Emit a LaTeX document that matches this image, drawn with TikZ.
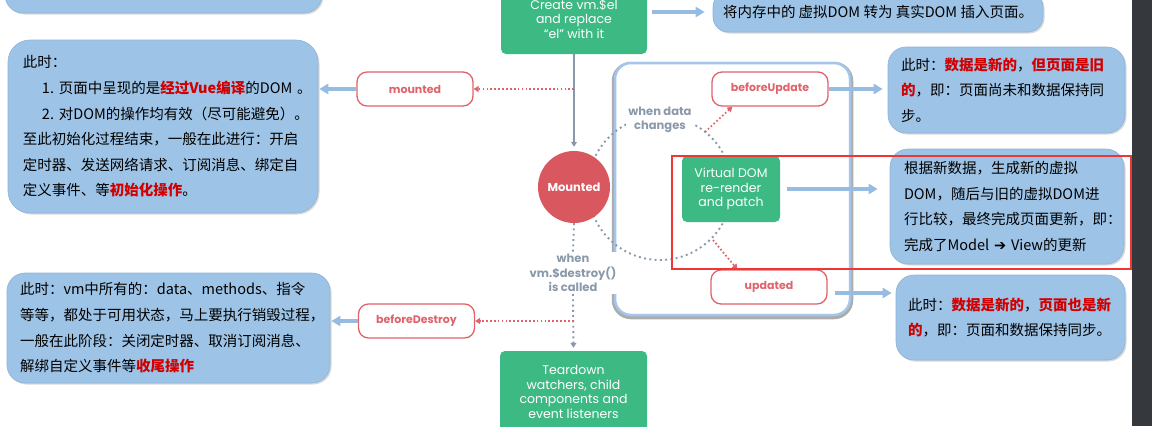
\documentclass[tikz,border=0pt]{standalone}
\usepackage{fontspec}
\setmainfont{Poppins}
\newfontfamily\cjk{Noto Sans CJK SC}
\newfontfamily\dejavu{DejaVu Sans}
\usepackage{xcolor}
\usetikzlibrary{arrows.meta,shadows}
\hyphenpenalty=10000
\exhyphenpenalty=10000

\definecolor{boxblue}{HTML}{9DC3E6}
\definecolor{boxedge}{HTML}{8DB3D9}
\definecolor{arrowblue}{HTML}{96BCE2}
\definecolor{frameblue}{HTML}{A4C6EA}
\definecolor{vuegreen}{HTML}{3DB984}
\definecolor{hookred}{HTML}{E0636B}
\definecolor{circred}{HTML}{D9575F}
\definecolor{hlred}{HTML}{D00000}
\definecolor{slate}{HTML}{8A99AA}
\definecolor{framered}{HTML}{F03535}
\definecolor{darkbar}{HTML}{35393D}

\newcommand{\redtxt}[1]{\textcolor{hlred}{\bfseries #1}}
\newcommand{\hook}[4]{\node[hookbox] (#1) at (#2,#3) {#4};}

\tikzset{
  infobox/.style={fill=boxblue, draw=boxedge, line width=0.6pt, rounded corners=18pt,
    align=left, inner xsep=0pt, font=\cjk\fontsize{14.5pt}{25.6pt}\selectfont,
    drop shadow={opacity=0.3, shadow xshift=1.5pt, shadow yshift=-1.5pt}},
  hookbox/.style={draw=hookred, fill=white, line width=1.3pt, rounded corners=10pt,
    minimum width=116pt, minimum height=34pt, text=hookred,
    font=\bfseries\fontsize{11pt}{13pt}\selectfont},
  greenbox/.style={fill=vuegreen, text=white, rounded corners=5pt, align=center,
    font=\fontsize{12.5pt}{14.5pt}\selectfont},
  slatelabel/.style={text=slate, fill=white, align=center, inner sep=2pt,
    font=\bfseries\fontsize{11.5pt}{14.5pt}\selectfont},
  grayline/.style={draw=slate, line width=1.8pt, -{Triangle[length=5pt,width=6pt]}},
  graydot/.style={draw=slate, line width=1.9pt, dash pattern=on 1.9pt off 3.4pt},
  reddot/.style={draw=hookred, line width=1.7pt, dash pattern=on 1.7pt off 2.2pt,
    -{Triangle[length=5pt,width=6pt]}},
  bluearrow/.style={draw=arrowblue, line width=3.2pt, -{Triangle[length=9pt,width=10pt]}}
}

\begin{document}
\begin{tikzpicture}[x=1pt,y=-1pt]
\useasboundingbox (0,0) rectangle (1152,426);

% update loop frame and the dotted cycle
\draw[gray!65, line width=4.5pt, rounded corners=17pt] (614,64) rectangle (851,317);
\draw[frameblue, line width=2.5pt, fill=white, rounded corners=16pt] (615,63) rectangle (850,315);
\draw[graydot] (660,188) circle[radius=72pt];

% lifecycle steps
\node[greenbox, minimum width=146pt, minimum height=70pt] (create) at (574,19)
  {Create vm.\$el\\and replace\\“el” with it};
\node[circle, fill=circred, text=white, minimum size=72pt, inner sep=0pt,
  font=\bfseries\fontsize{11.5pt}{13pt}\selectfont] (mounted) at (574,187) {Mounted};
\node[greenbox, minimum width=98pt, minimum height=66pt] (vdom) at (731,189)
  {Virtual DOM\\re-render\\and patch};
\node[greenbox, minimum width=147pt, minimum height=82pt] (teardown) at (573.5,392)
  {Teardown\\watchers, child\\components and\\event listeners};
\node[slatelabel] (datachg) at (660,120) {when data\\changes};
\node[slatelabel] (destroycall) at (573,273) {when\\vm.\$destroy()\\is called};

% hooks
\hook{mountedhook}{415}{89}{mounted}
\hook{beforeupdate}{770}{89}{beforeUpdate}
\hook{updated}{769}{287}{updated}
\hook{beforedestroy}{416.5}{321}{beforeDestroy}

% notes
\node[infobox, minimum width=317pt, minimum height=73pt] (topinfo) at (163.5,-23.5) {};
\node[infobox, minimum width=330pt, minimum height=40pt, rounded corners=15pt] (domnote) at (878,12)
  {将内存中的 虚拟DOM 转为 真实DOM 插入页面。};
\node[infobox, minimum width=310pt, minimum height=173pt, text width=280pt, rounded corners=22pt] (mountinfo) at (163,126.5)
  {此时：\\
   \hspace*{19pt}1.~页面中呈现的是\redtxt{经过Vue编译}的DOM~。\\
   \hspace*{19pt}2.~对DOM的操作均有效（尽可能避免）。\\
   至此初始化过程结束，一般在此进行：开启\\
   定时器、发送网络请求、订阅消息、绑定自\\
   定义事件、等\redtxt{初始化操作}。};
\node[infobox, minimum width=323pt, minimum height=110pt, text width=297pt] (destroyinfo) at (168.5,328)
  {此时：vm中所有的：data、methods、指令\\
   等等，都处于可用状态，马上要执行销毁过程，\\
   一般在此阶段：关闭定时器、取消订阅消息、\\
   解绑自定义事件等\redtxt{收尾操作}};
\node[infobox, minimum width=237pt, minimum height=86pt, text width=211pt] (beforeinfo) at (1006.5,90)
  {此时：\redtxt{数据是新的}，\redtxt{但页面是旧}\\
   \redtxt{的}，即：页面尚未和数据保持同\\
   步。};
\node[infobox, minimum width=234pt, minimum height=115pt, text width=206pt] (vdominfo) at (1007,206.5)
  {根据新数据，生成新的虚拟\\
   DOM，随后与旧的虚拟DOM进\\
   行比较，最终完成页面更新，即：\\
   完成了Model~{\dejavu\bfseries ➔}~View的更新};
\node[infobox, minimum width=229pt, minimum height=85pt, text width=205pt] (updinfo) at (1010.5,317.5)
  {此时：\redtxt{数据是新的}，\redtxt{页面也是新}\\
   \redtxt{的}，即：页面和数据保持同步。};

% flow
\draw[grayline, shorten >=4pt] (create.south) -- (mounted.north);
\draw[graydot] (mounted.south) -- (destroycall.north);
\draw[graydot, -{Triangle[length=5pt,width=6pt]}, shorten >=3pt] (destroycall.south) -- (teardown.north);
\draw[reddot] (create.south |- mountedhook.east) -- (mountedhook.east);
\draw[reddot] (teardown.north |- beforedestroy.east) -- (beforedestroy.east);
\coordinate (upout) at (705,132);
\coordinate (downout) at (713,240);
\draw[reddot] (upout) -- ([xshift=21pt]beforeupdate.south west);
\draw[reddot] (downout) -- ([xshift=27pt]updated.north west);

% notes arrows
\draw[bluearrow, shorten >=1pt] (mountedhook.west) -- (mountedhook.west -| mountinfo.east);
\draw[bluearrow, shorten >=1pt] (beforedestroy.west) -- (beforedestroy.west -| destroyinfo.east);
\draw[bluearrow, shorten <=5pt, shorten >=8pt] (create.east |- domnote.west) -- (domnote.west);
\draw[bluearrow, shorten >=5pt] (beforeupdate.east) -- (beforeupdate.east -| beforeinfo.west);
\draw[bluearrow, shorten <=7pt, shorten >=12pt] (vdom.east) -- (vdom.east -| vdominfo.west);
\draw[bluearrow, shorten <=7pt, shorten >=4pt] ([yshift=-6pt]updated.east) -- ([yshift=-6pt]updated.east -| updinfo.west);

% screenshot marks
\draw[framered, line width=2pt] (672,156) rectangle (1131,269);
\fill[darkbar] (1132,0) rectangle (1152,426);
\end{tikzpicture}
\end{document}
